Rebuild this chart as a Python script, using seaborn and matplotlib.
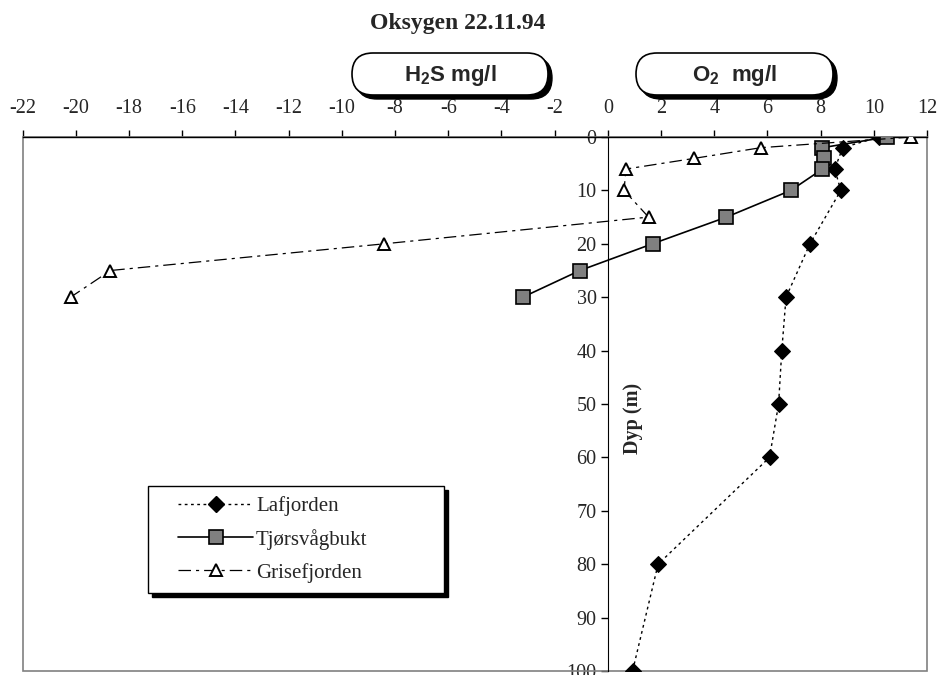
import numpy as np
import pandas as pd
import matplotlib
matplotlib.use("Agg")
import matplotlib.pyplot as plt
import seaborn as sns
from matplotlib.patches import FancyBboxPatch, Rectangle
from matplotlib.lines import Line2D

# ------------------------------------------------------------
# Data
# ------------------------------------------------------------
laf_depth = [0, 2, 6, 10, 20, 30, 40, 50, 60, 80, 100]
laf_value = [10.2, 8.83, 8.53, 8.76, 7.6, 6.7, 6.54, 6.42, 6.08, 1.89, 0.93]

tjo_depth = [0, 2, 4, 6, 10, 15, 20, 25, 30]
tjo_value = [10.5, 8.07, 8.13, 8.07, 6.88, 4.46, 1.68, -1.05, -3.2]

gri_depth = [0, 2, 4, 6, 10, 15, 20, 25, 30]
gri_value = [11.4, 5.75, 3.25, 0.68, 0.61, 1.53, -8.4, -18.7, -20.2]

series_names = ["Lafjorden", "Tjørsvågbukt", "Grisefjorden"]
x_ticks = list(range(-22, 13, 2))
y_ticks = list(range(0, 101, 10))

# ------------------------------------------------------------
# Style
# ------------------------------------------------------------
sns.set_style("white")
plt.rcParams["font.family"] = ["Liberation Serif", "DejaVu Serif"]
plt.rcParams["axes.unicode_minus"] = False
plt.rcParams["mathtext.fontset"] = "custom"
plt.rcParams["mathtext.rm"] = "Liberation Sans:bold"
plt.rcParams["mathtext.it"] = "Liberation Sans:bold"
plt.rcParams["mathtext.bf"] = "Liberation Sans:bold"

W, H = 941, 675
fig = plt.figure(figsize=(W / 100, H / 100), dpi=100)
ax = fig.add_axes([22.7 / W, 1 - 671 / H, (927 - 22.7) / W, (671 - 137) / H])

laf = pd.DataFrame({"value": laf_value, "depth": laf_depth})
tjo = pd.DataFrame({"value": tjo_value, "depth": tjo_depth})
gri = pd.DataFrame({"value": gri_value, "depth": gri_depth})

laf_style = dict(color="black", linewidth=1.0, linestyle=(0, (2, 2.5)),
                 marker="D", markersize=8, markerfacecolor="black",
                 markeredgecolor="black")
tjo_style = dict(color="black", linewidth=1.2, marker="s", markersize=10,
                 markerfacecolor="#808080", markeredgecolor="black",
                 markeredgewidth=1.2)
gri_style = dict(color="black", linewidth=0.9, linestyle=(0, (10, 4, 2.5, 4)),
                 marker="^", markersize=9, markerfacecolor="white",
                 markeredgecolor="black", markeredgewidth=1.4)

sns.lineplot(data=laf, x="value", y="depth", sort=False, estimator=None, ax=ax,
             zorder=3, **laf_style)
sns.lineplot(data=tjo, x="value", y="depth", sort=False, estimator=None, ax=ax,
             zorder=4, **tjo_style)
sns.lineplot(data=gri, x="value", y="depth", sort=False, estimator=None, ax=ax,
             zorder=5, **gri_style)

ax.set_xlim(-22, 12)
ax.set_ylim(100, 0)
ax.set_xticks(x_ticks)
ax.set_yticks(y_ticks)
ax.set_xlabel("")
ax.set_ylabel("")

# y axis sits at x = 0, x axis along the top, grey frame around the rest
ax.spines["left"].set_position(("data", 0))
ax.spines["left"].set_color("black")
ax.spines["top"].set_color("black")
ax.spines["top"].set_linewidth(1.0)
ax.spines["right"].set_visible(False)
ax.spines["bottom"].set_visible(False)
ax.add_patch(Rectangle((0, 0), 1, 1, transform=ax.transAxes, fill=False,
                       edgecolor="#808080", linewidth=1.2, zorder=1,
                       clip_on=False))

ax.xaxis.tick_top()
ax.tick_params(axis="x", top=True, bottom=False, labeltop=True,
               labelbottom=False, direction="out", length=5, width=1,
               pad=9, labelsize=14.5, color="black")
ax.tick_params(axis="y", left=True, direction="out", length=5, width=1,
               pad=3, labelsize=14.5, color="black")

ax.text(633 / W, 1 - 418 / H, "Dyp (m)", transform=fig.transFigure,
        rotation=90, ha="center", va="center", fontsize=14.5,
        fontweight="bold")

fig.text(458 / W, 1 - 24 / H, "Oksygen 22.11.94", ha="center", va="center",
         fontsize=17, fontweight="bold")

# ------------------------------------------------------------
# Overlay in pixel units: header boxes and legend
# ------------------------------------------------------------
ov = fig.add_axes([0, 0, 1, 1], zorder=10)
ov.set_xlim(0, W)
ov.set_ylim(H, 0)
ov.axis("off")
ov.patch.set_alpha(0)

def header_box(x0, y0, w, h, label):
    shadow = FancyBboxPatch((x0 + 4, y0 + 4), w, h,
                            boxstyle="round,pad=0,rounding_size=21",
                            facecolor="black", edgecolor="black", linewidth=1)
    box = FancyBboxPatch((x0, y0), w, h,
                         boxstyle="round,pad=0,rounding_size=21",
                         facecolor="white", edgecolor="black", linewidth=1.2)
    ov.add_patch(shadow)
    ov.add_patch(box)
    ov.text(x0 + w / 2, y0 + h / 2 + 1, label, ha="center", va="center",
            fontsize=16, fontweight="bold", family="Liberation Sans")

header_box(352, 53, 196, 42, r"H$_2$S mg/l")
header_box(636, 53, 197, 42, r"O$_2$  mg/l")

# legend box with drop shadow
ov.add_patch(Rectangle((152, 490), 296, 107, facecolor="black",
                       edgecolor="black", linewidth=1))
ov.add_patch(Rectangle((148, 486), 296, 107, facecolor="white",
                       edgecolor="black", linewidth=1))

handles = [Line2D([], [], **laf_style),
           Line2D([], [], **tjo_style),
           Line2D([], [], **gri_style)]
ov.legend(handles, series_names, loc="upper left",
          bbox_to_anchor=(178 / W, 1 - 496 / H), bbox_transform=fig.transFigure,
          frameon=False, fontsize=15, handlelength=3.6, handletextpad=0.15,
          labelspacing=0.62, borderaxespad=0, borderpad=0)

fig.savefig("out.png", dpi=100)
